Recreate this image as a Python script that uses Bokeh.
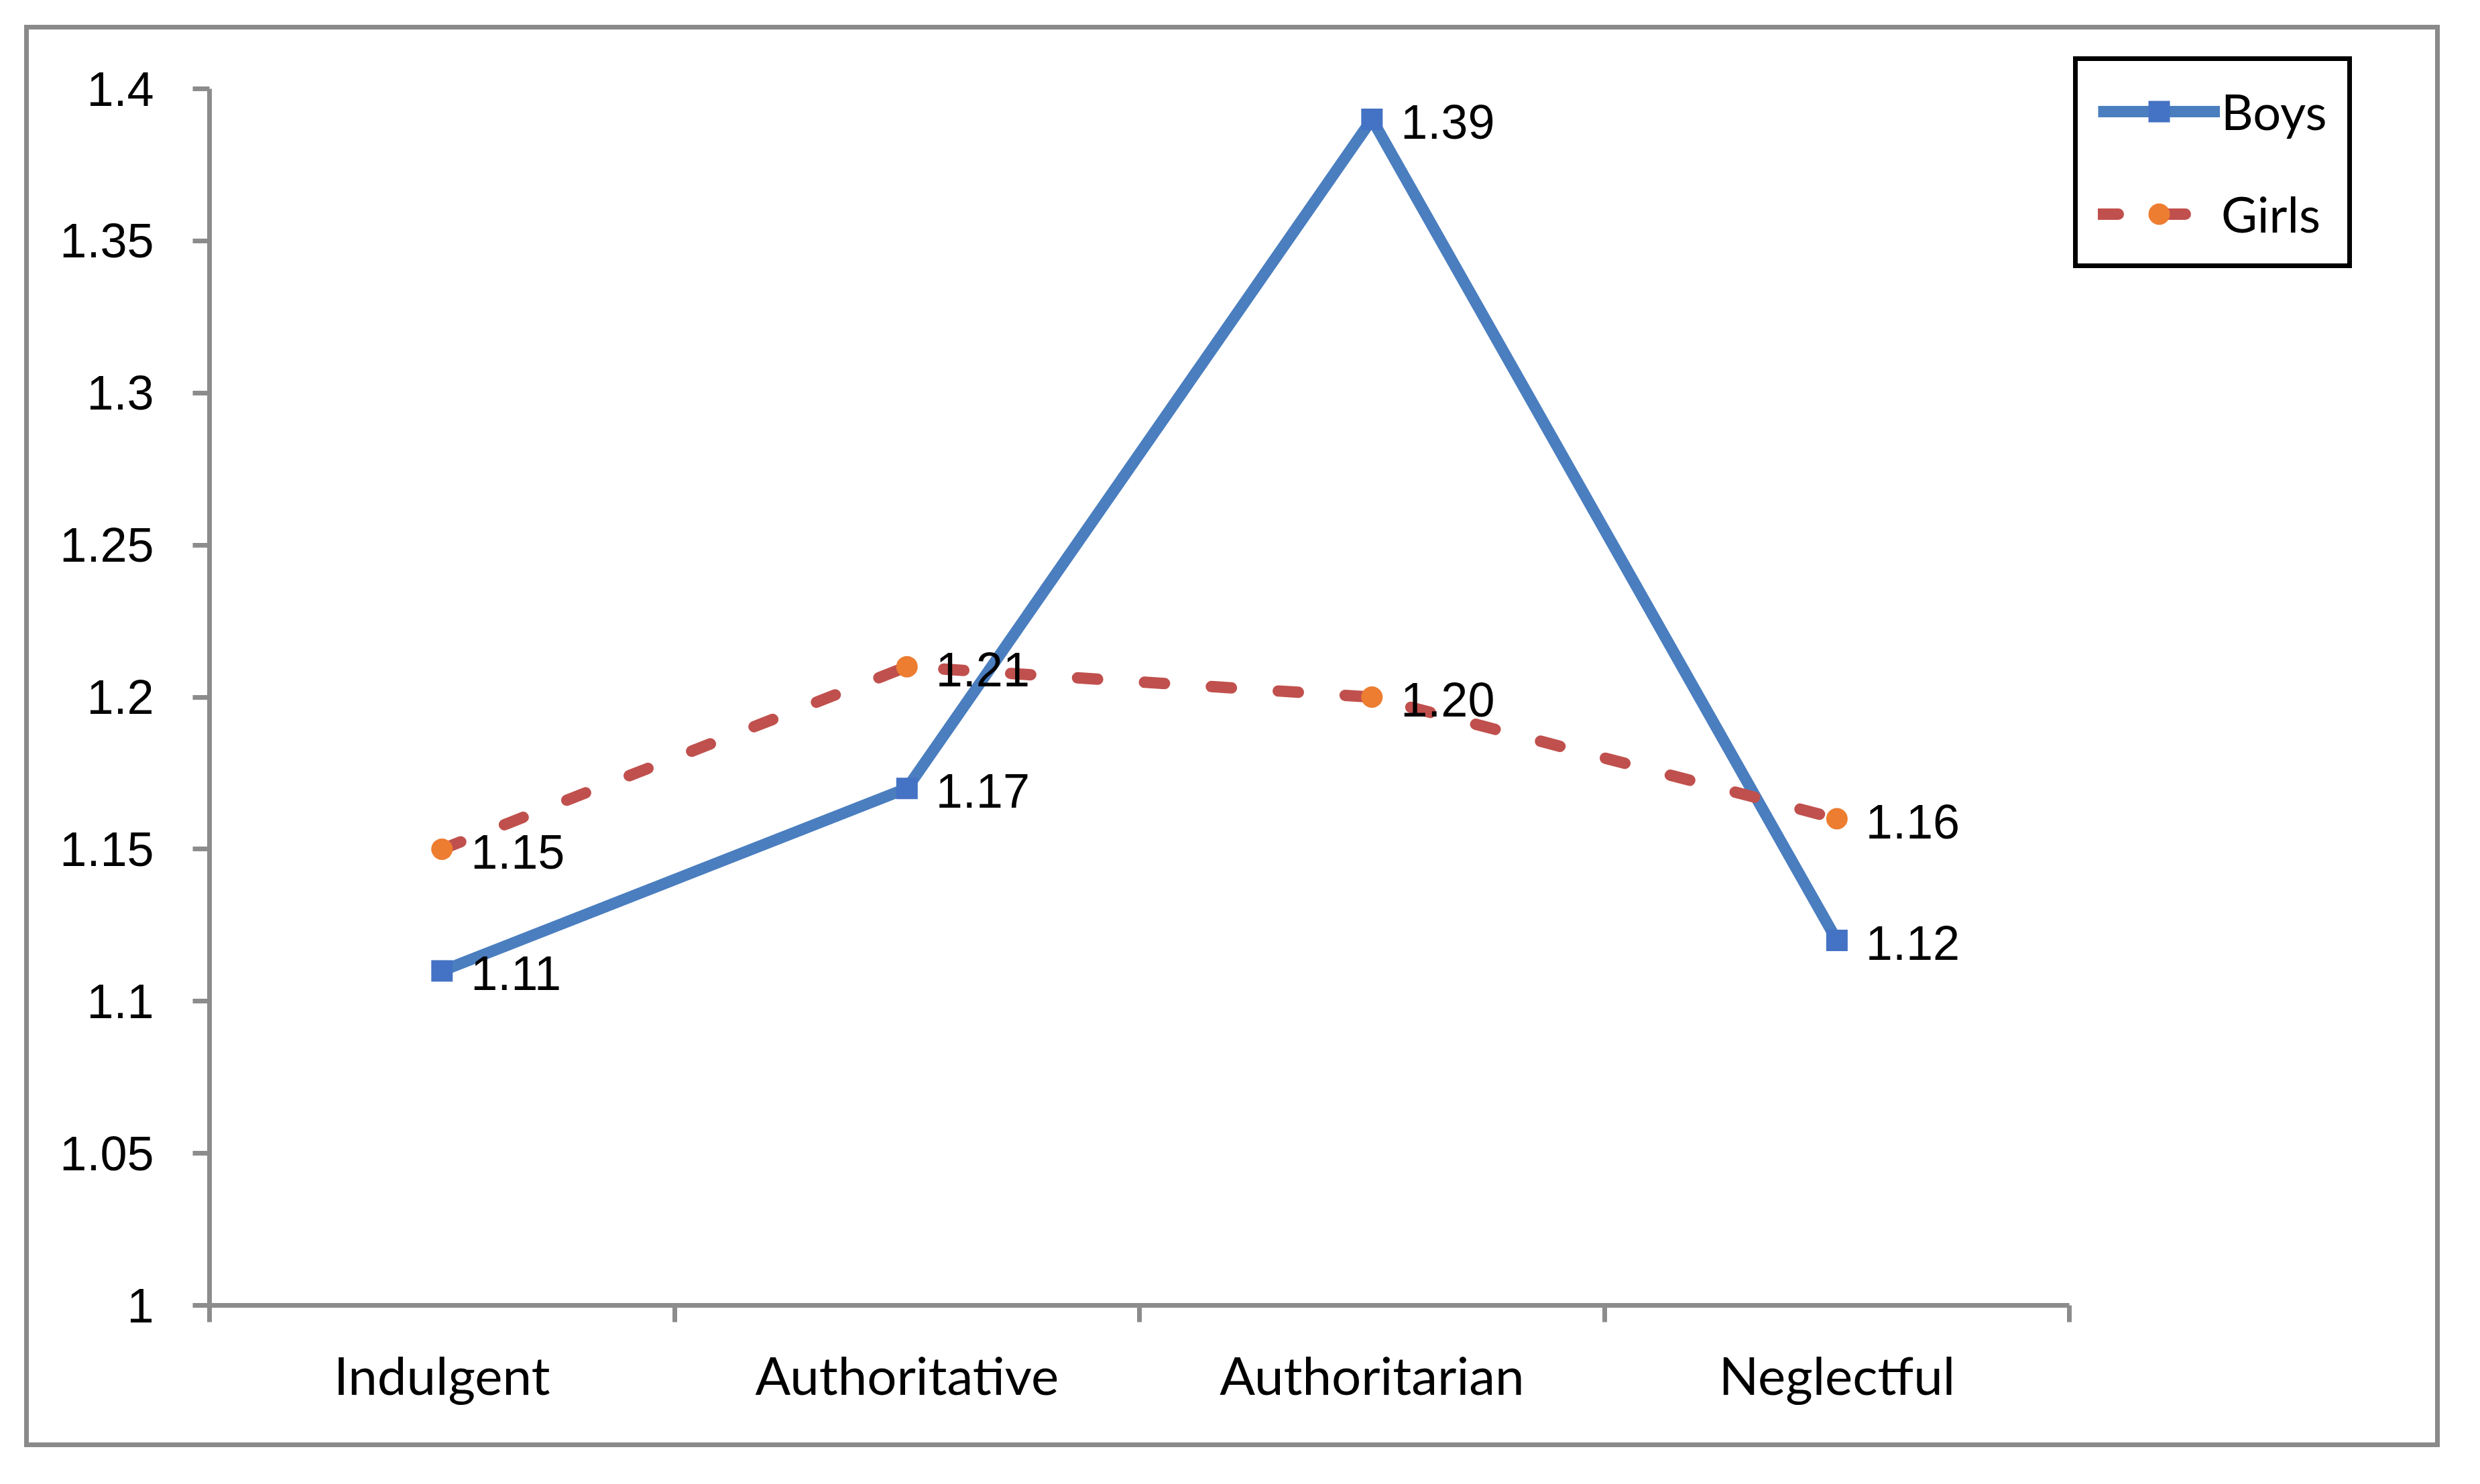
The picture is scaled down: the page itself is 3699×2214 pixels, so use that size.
from bokeh.plotting import figure
from bokeh.models import Range1d, FixedTicker, Legend, LegendItem
from bokeh.embed import file_html
from bokeh.resources import INLINE
from bokeh.core.properties import value

# ---- data ----
categories = ["Indulgent", "Authoritative", "Authoritarian", "Neglectful"]
boys = [1.11, 1.17, 1.39, 1.12]
girls = [1.15, 1.21, 1.20, 1.16]
y_ticks = [1.0, 1.05, 1.1, 1.15, 1.2, 1.25, 1.3, 1.35, 1.4]
y_tick_labels = ["1", "1.05", "1.1", "1.15", "1.2", "1.25", "1.3", "1.35", "1.4"]
series_names = ["Boys", "Girls"]

# ---- derived positions (category centres and boundaries) ----
n = len(categories)
x_pos = [i + 0.5 for i in range(n)]
boundaries = list(range(n + 1))

AXIS_GRAY = "#8c8c8c"
BOYS_LINE = "#4a7ebf"
BOYS_MARK = "#4472c4"
GIRLS_LINE = "#c0504d"
GIRLS_MARK = "#ed7d31"

p = figure(width=3589, height=2108, output_backend="svg", toolbar_location=None,
           x_range=Range1d(0, 4.6833), y_range=Range1d(1.0, 1.4161),
           min_border_left=269, min_border_right=86,
           min_border_top=15, min_border_bottom=219)
p.grid.visible = False
p.outline_line_color = None
p.background_fill_color = "white"
p.border_fill_color = "white"
p.styles = {"margin-left": "36px", "margin-top": "37px",
            "border": "7px solid #8a8a8a", "box-sizing": "content-box"}

# x axis: labels at category centres, ticks at boundaries (minor ticks)
xa = p.xaxis[0]
xa.ticker = FixedTicker(ticks=x_pos, minor_ticks=boundaries)
xa.bounds = (0, n)
xa.major_label_overrides = dict(zip(x_pos, categories))
xa.major_tick_line_color = None
xa.major_tick_out = 0
xa.major_tick_in = 0
xa.minor_tick_out = 25
xa.minor_tick_in = 0
xa.minor_tick_line_color = AXIS_GRAY
xa.minor_tick_line_width = 7
xa.axis_line_color = AXIS_GRAY
xa.axis_line_width = 7
xa.major_label_text_font = "Lato"
xa.major_label_text_font_size = "78px"
xa.major_label_text_color = "black"
xa.major_label_standoff = 31

# y axis
ya = p.yaxis[0]
ya.ticker = FixedTicker(ticks=y_ticks, minor_ticks=[])
ya.bounds = (y_ticks[0], y_ticks[-1])
ya.major_label_overrides = dict(zip(y_ticks, y_tick_labels))
ya.major_tick_out = 25
ya.major_tick_in = 0
ya.major_tick_line_color = AXIS_GRAY
ya.major_tick_line_width = 7
ya.minor_tick_line_color = None
ya.axis_line_color = AXIS_GRAY
ya.axis_line_width = 7
ya.major_label_text_font = "Liberation Sans"
ya.major_label_text_font_size = "72px"
ya.major_label_text_color = "black"
ya.major_label_standoff = 58

# series
bl = p.line(x_pos, boys, line_color=BOYS_LINE, line_width=17, line_join="round")
bm = p.scatter(x_pos, boys, marker="square", size=32, fill_color=BOYS_MARK, line_color=None)
gl = p.line(x_pos, girls, line_color=GIRLS_LINE, line_width=17, line_dash="30 70",
            line_cap="round", line_join="round")
gm = p.scatter(x_pos, girls, marker="circle", size=32, fill_color=GIRLS_MARK, line_color=None)

# data labels
for vals in (boys, girls):
    p.text(x=x_pos, y=vals, text=[f"{v:.2f}" for v in vals], x_offset=43, y_offset=4,
           text_align="left", text_baseline="middle",
           text_font=value("Liberation Sans"), text_font_size="72px", text_color="black")

legend = Legend(items=[LegendItem(label=series_names[0], renderers=[bl, bm]),
                       LegendItem(label=series_names[1], renderers=[gl, gm])],
                location=(2780, 1547), orientation="vertical",
                glyph_width=182, glyph_height=80, label_height=80, label_standoff=2,
                padding=30, spacing=64, margin=0,
                border_line_color="black", border_line_width=7, border_line_alpha=1.0,
                background_fill_color="white", background_fill_alpha=1,
                label_text_font="Lato", label_text_font_size="74px",
                label_text_color="black", label_text_baseline="middle")
p.add_layout(legend)

open("out.html", "w").write(file_html(p, INLINE))
